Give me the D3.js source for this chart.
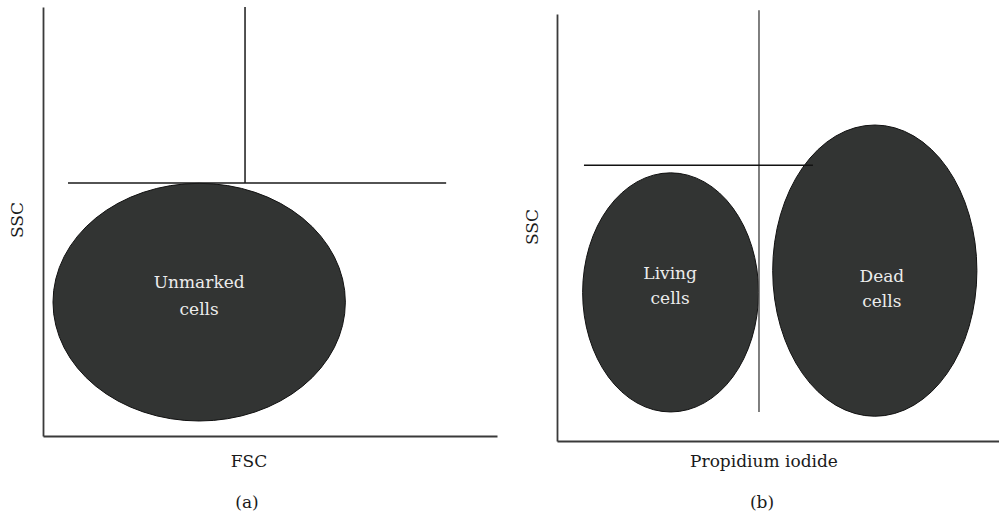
<!DOCTYPE html>
<html>
<head>
<meta charset="utf-8">
<script src="https://cdn.jsdelivr.net/npm/d3@7"></script>
<style>
  html, body { margin: 0; padding: 0; background: #fff; }
  svg { display: block; }
</style>
</head>
<body>
<svg id="chart" width="999" height="516"></svg>
<script>
// Panel titles and axis labels
const panelIds = ["a", "b"];
const panelCaptions = ["(a)", "(b)"];
const xAxisTitles = ["FSC", "Propidium iodide"];
const yAxisTitles = ["SSC", "SSC"];

// Cell populations (axis units 0–100): panel, centre, radii, label anchor
const popPanel   = ["a", "b", "b"];
const popLines   = [["Unmarked", "cells"], ["Living", "cells"], ["Dead", "cells"]];
const popCx      = [34.4, 25.7, 71.9];
const popCy      = [31.2, 34.8, 39.9];
const popRx      = [32.2, 19.9, 23.1];
const popRy      = [27.7, 28.0, 34.1];
const popLabelX  = [34.4, 25.6, 73.5];
const popLabelY  = [34.5, 37.9, 37.2];

// Gate lines (axis units): panel, orientation, position, extent
const gatePanel  = ["a", "a", "b", "b"];
const gateDir    = ["v", "h", "v", "h"];
const gatePos    = [44.5, 59.0, 45.7, 64.6];
const gateFrom   = [59.0, 5.5, 6.8, 6.1];
const gateTo     = [100, 88.8, 100.9, 57.9];
const gateColor  = ["#1a1a1a", "#1a1a1a", "#555", "#111"];

const FONT = "'DejaVu Serif', 'Liberation Serif', serif";

// Plot frames in pixels
const frames = {
  a: { left: 43, right: 497, bottom: 436, top: 7, lineGap: 27, ssc: [16.5, 220], title: [249, 467], cap: [247, 508] },
  b: { left: 557, right: 999, bottom: 441, top: 14, lineGap: 25, ssc: [532, 227], title: [764, 467], cap: [762, 508] }
};

const svg = d3.select("#chart");

panelIds.forEach((id, i) => {
  const f = frames[id];
  const x = d3.scaleLinear().domain([0, 100]).range([f.left, f.right]);
  const y = d3.scaleLinear().domain([0, 100]).range([f.bottom, f.top]);
  const g = svg.append("g").attr("class", "panel-" + id);

  // axes: bare lines without ticks
  const xAxis = g.append("g").attr("transform", `translate(0,${f.bottom})`)
    .call(d3.axisBottom(x).tickValues([]).tickSizeOuter(0));
  const yAxis = g.append("g").attr("transform", `translate(${f.left},0)`)
    .call(d3.axisLeft(y).tickValues([]).tickSizeOuter(0));
  [xAxis, yAxis].forEach(ax => ax.select(".domain")
    .attr("stroke", "#3a3a3a").attr("stroke-width", 1.8));

  // populations
  const pops = popPanel.map((p, k) => k).filter(k => popPanel[k] === id);
  g.selectAll("ellipse.pop").data(pops).join("ellipse")
    .attr("class", "pop")
    .attr("cx", k => x(popCx[k]))
    .attr("cy", k => y(popCy[k]))
    .attr("rx", k => x(popRx[k]) - x(0))
    .attr("ry", k => y(0) - y(popRy[k]))
    .attr("fill", "#323433")
    .attr("stroke", "#111")
    .attr("stroke-width", 1);

  // gates
  const gates = gatePanel.map((p, k) => k).filter(k => gatePanel[k] === id);
  g.selectAll("line.gate").data(gates).join("line")
    .attr("class", "gate")
    .attr("x1", k => gateDir[k] === "v" ? x(gatePos[k]) : x(gateFrom[k]))
    .attr("x2", k => gateDir[k] === "v" ? x(gatePos[k]) : x(gateTo[k]))
    .attr("y1", k => gateDir[k] === "v" ? y(gateFrom[k]) : y(gatePos[k]))
    .attr("y2", k => gateDir[k] === "v" ? y(gateTo[k]) : y(gatePos[k]))
    .attr("stroke", k => gateColor[k])
    .attr("stroke-width", 1.5);

  // population labels
  const labels = g.selectAll("text.pop-label").data(pops).join("text")
    .attr("class", "pop-label")
    .attr("x", k => x(popLabelX[k]))
    .attr("y", k => y(popLabelY[k]))
    .attr("text-anchor", "middle")
    .attr("font-family", FONT)
    .attr("font-size", 17)
    .attr("fill", "#ececec");
  labels.selectAll("tspan").data(k => popLines[k]).join("tspan")
    .attr("x", function () { return this.parentNode.getAttribute("x"); })
    .attr("dy", (d, j) => j === 0 ? 0 : f.lineGap)
    .text(d => d);

  // axis titles and caption
  g.append("text")
    .attr("x", f.title[0]).attr("y", f.title[1])
    .attr("text-anchor", "middle").attr("font-family", FONT)
    .attr("font-size", 17).attr("fill", "#1a1a1a")
    .text(xAxisTitles[i]);
  g.append("text")
    .attr("transform", `translate(${f.ssc[0]},${f.ssc[1]}) rotate(-90)`)
    .attr("text-anchor", "middle").attr("dominant-baseline", "central")
    .attr("font-family", FONT)
    .attr("font-size", 17).attr("fill", "#1a1a1a")
    .text(yAxisTitles[i]);
  g.append("text")
    .attr("x", f.cap[0]).attr("y", f.cap[1])
    .attr("text-anchor", "middle").attr("font-family", FONT)
    .attr("font-size", 17).attr("fill", "#1a1a1a")
    .text(panelCaptions[i]);
});
</script>
</body>
</html>
